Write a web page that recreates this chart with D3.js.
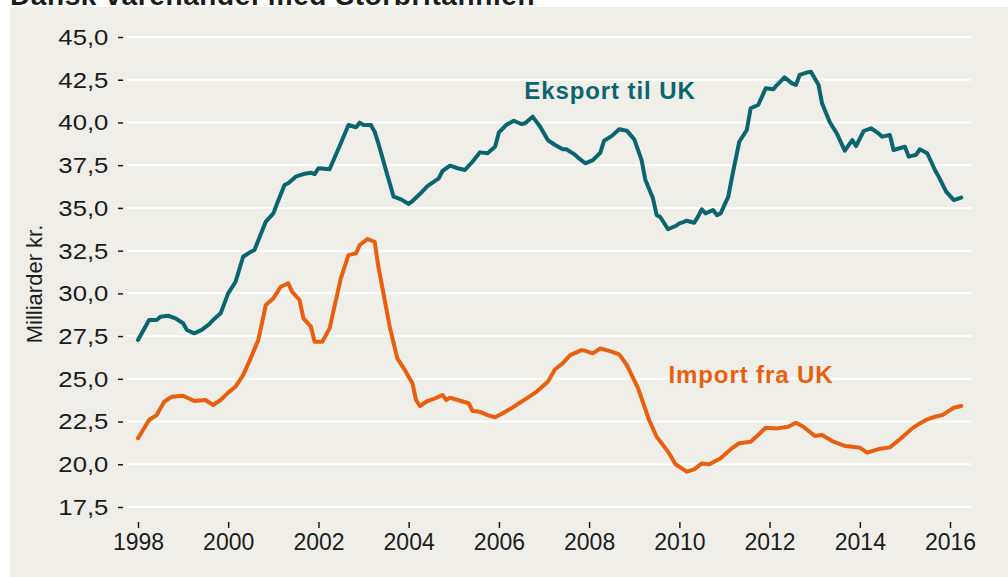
<!DOCTYPE html>
<html>
<head>
<meta charset="utf-8">
<script src="https://cdn.jsdelivr.net/npm/d3@7"></script>
<style>
  html, body { margin: 0; padding: 0; background: #ffffff; }
  svg { display: block; }
  text { font-family: "Liberation Sans", Arial, Helvetica, sans-serif; }
</style>
</head>
<body>
<svg id="chart" width="1008" height="577"></svg>
<script>
// ---------- data ----------
const title = "Dansk varehandel med Storbritannien";
const yAxisTitle = "Milliarder kr.";
const seriesNames = ["Eksport til UK", "Import fra UK"];

const exportDates = ["1998-01","1998-04","1998-06","1998-07","1998-09","1998-11","1999-01","1999-02","1999-04","1999-06","1999-08","1999-09","1999-11","2000-01","2000-03","2000-05","2000-07","2000-08","2000-11","2001-01","2001-02","2001-04","2001-05","2001-07","2001-09","2001-11","2001-12","2002-01","2002-04","2002-07","2002-09","2002-11","2002-12","2003-01","2003-03","2003-04","2003-05","2003-07","2003-08","2003-09","2003-11","2004-01","2004-02","2004-04","2004-06","2004-09","2004-10","2004-12","2005-02","2005-04","2005-06","2005-08","2005-10","2005-12","2006-01","2006-03","2006-05","2006-07","2006-08","2006-10","2006-12","2007-02","2007-04","2007-06","2007-07","2007-09","2007-10","2007-12","2008-02","2008-04","2008-05","2008-07","2008-09","2008-11","2009-01","2009-03","2009-04","2009-06","2009-07","2009-08","2009-10","2009-12","2010-01","2010-02","2010-03","2010-05","2010-06","2010-07","2010-08","2010-10","2010-11","2010-12","2011-02","2011-03","2011-05","2011-07","2011-08","2011-10","2011-11","2011-12","2012-02","2012-03","2012-05","2012-07","2012-08","2012-09","2012-11","2012-12","2013-02","2013-03","2013-05","2013-07","2013-09","2013-11","2013-12","2014-02","2014-04","2014-06","2014-07","2014-09","2014-10","2015-01","2015-02","2015-04","2015-05","2015-07","2015-09","2015-10","2015-12","2016-02","2016-04"];
const exportValues = [27.27,28.44,28.44,28.63,28.69,28.54,28.25,27.86,27.66,27.86,28.2,28.44,28.83,30.0,30.68,32.14,32.43,32.54,34.2,34.68,35.27,36.34,36.44,36.83,36.98,37.06,36.98,37.32,37.26,38.78,39.85,39.72,39.99,39.85,39.85,39.46,38.78,37.22,36.44,35.66,35.5,35.23,35.4,35.81,36.28,36.73,37.16,37.47,37.32,37.22,37.7,38.25,38.2,38.58,39.42,39.85,40.1,39.91,39.95,40.34,39.75,38.97,38.68,38.43,38.43,38.15,37.96,37.61,37.8,38.23,38.93,39.2,39.6,39.52,39.01,37.8,36.63,35.56,34.58,34.45,33.75,33.94,34.1,34.17,34.25,34.13,34.49,34.92,34.68,34.88,34.58,34.68,35.66,36.73,38.87,39.56,40.83,41.02,41.51,42.0,41.94,42.19,42.64,42.29,42.19,42.78,42.93,42.97,42.19,41.12,40.04,39.32,38.35,38.97,38.62,39.5,39.66,39.36,39.17,39.27,38.39,38.58,38.0,38.1,38.43,38.2,37.22,36.83,35.95,35.46,35.6];

const importDates = ["1998-01","1998-04","1998-06","1998-08","1998-10","1999-01","1999-04","1999-07","1999-09","1999-11","2000-01","2000-03","2000-05","2000-07","2000-09","2000-11","2001-01","2001-03","2001-05","2001-06","2001-08","2001-09","2001-11","2001-12","2002-02","2002-04","2002-07","2002-09","2002-11","2002-12","2003-02","2003-04","2003-05","2003-08","2003-10","2003-12","2004-02","2004-03","2004-04","2004-06","2004-08","2004-10","2004-11","2004-12","2005-02","2005-05","2005-06","2005-08","2005-10","2005-12","2006-02","2006-04","2006-07","2006-08","2006-11","2007-02","2007-04","2007-06","2007-08","2007-11","2007-12","2008-02","2008-04","2008-07","2008-09","2008-11","2009-02","2009-05","2009-07","2009-10","2009-12","2010-03","2010-05","2010-07","2010-09","2010-12","2011-03","2011-05","2011-08","2011-10","2011-12","2012-03","2012-06","2012-08","2012-10","2013-01","2013-03","2013-06","2013-09","2013-11","2014-01","2014-03","2014-06","2014-09","2014-12","2015-03","2015-05","2015-07","2015-09","2015-11","2016-01","2016-02","2016-04"];
const importValues = [21.52,22.59,22.88,23.66,23.95,24.01,23.7,23.76,23.47,23.76,24.19,24.54,25.22,26.2,27.27,29.32,29.71,30.39,30.59,30.1,29.61,28.54,28.05,27.17,27.17,27.95,30.88,32.24,32.34,32.83,33.18,33.02,31.56,28.05,26.2,25.52,24.74,23.76,23.41,23.7,23.86,24.05,23.76,23.89,23.76,23.57,23.12,23.07,22.88,22.75,22.98,23.23,23.66,23.8,24.24,24.83,25.56,25.9,26.39,26.68,26.64,26.49,26.78,26.59,26.43,25.81,24.44,22.59,21.61,20.74,20.0,19.57,19.7,20.05,20.0,20.35,20.93,21.23,21.32,21.71,22.14,22.1,22.2,22.43,22.2,21.65,21.71,21.32,21.07,21.03,20.97,20.68,20.89,20.99,21.52,22.1,22.39,22.63,22.78,22.88,23.17,23.31,23.41];

const yTicks = [17.5, 20, 22.5, 25, 27.5, 30, 32.5, 35, 37.5, 40, 42.5, 45];
const xTickYears = [1998, 2000, 2002, 2004, 2006, 2008, 2010, 2012, 2014, 2016];

// ---------- drawing ----------
const colors = { export: "#0a6570", import: "#e8600f", bg: "#efeee8", text: "#1c1c1c" };
const svg = d3.select("#chart");
const parse = d3.timeParse("%Y-%m");

// panel background
svg.append("rect").attr("x", 10).attr("y", 7).attr("width", 998).attr("height", 570).attr("fill", colors.bg);

// title (cropped at top as in the reference)
svg.append("text").attr("x", 10).attr("y", 5)
  .attr("font-size", 28).attr("font-weight", "bold").attr("fill", colors.text)
  .attr("letter-spacing", 0.6)
  .text(title);

const x = d3.scaleTime().domain([new Date(1998, 0, 1), new Date(2016, 0, 1)]).range([138, 950]);
const y = d3.scaleLinear().domain([17.5, 45]).range([507, 37]);

// gridlines
svg.append("g").selectAll("line").data(yTicks).join("line")
  .attr("x1", 126).attr("x2", 971)
  .attr("y1", d => y(d)).attr("y2", d => y(d))
  .attr("stroke", "#ffffff").attr("stroke-width", 2);

// y axis
const fmt = d => d3.format(".1f")(d).replace(".", ",");
const yAxis = d3.axisLeft(y).tickValues(yTicks).tickFormat(fmt).tickSize(5).tickPadding(8);
const gy = svg.append("g").attr("transform", "translate(123,0)").call(yAxis);
gy.select(".domain").remove();
gy.selectAll(".tick line").attr("stroke", colors.text).attr("stroke-width", 1.5);
gy.selectAll(".tick text").attr("font-size", 23).attr("fill", colors.text)
  .attr("font-family", "'Liberation Sans', Arial, sans-serif")
  .attr("transform", "scale(1.12,1)");

// x axis
const xAxis = d3.axisBottom(x).tickValues(xTickYears.map(yr => new Date(yr, 0, 1)))
  .tickFormat(d3.timeFormat("%Y")).tickSize(6).tickPadding(6);
const gx = svg.append("g").attr("transform", "translate(0,522)").call(xAxis);
gx.select(".domain").remove();
gx.selectAll(".tick line").attr("stroke", colors.text).attr("stroke-width", 1.5);
gx.selectAll(".tick text").attr("font-size", 23).attr("fill", colors.text)
  .attr("font-family", "'Liberation Sans', Arial, sans-serif");

// y axis title
svg.append("text").attr("transform", "translate(42,284) rotate(-90)")
  .attr("text-anchor", "middle").attr("font-size", 22).attr("fill", colors.text)
  .text(yAxisTitle);

// lines
const line = d3.line().x(d => x(d.date)).y(d => y(d.value));
const exportData = exportDates.map((d, i) => ({ date: parse(d), value: exportValues[i] }));
const importData = importDates.map((d, i) => ({ date: parse(d), value: importValues[i] }));

svg.append("path").datum(importData).attr("d", line)
  .attr("fill", "none").attr("stroke", colors.import).attr("stroke-width", 4)
  .attr("stroke-linejoin", "round").attr("stroke-linecap", "round");
svg.append("path").datum(exportData).attr("d", line)
  .attr("fill", "none").attr("stroke", colors.export).attr("stroke-width", 4)
  .attr("stroke-linejoin", "round").attr("stroke-linecap", "round");

// series labels
svg.append("text").attr("x", 610).attr("y", 99).attr("text-anchor", "middle")
  .attr("font-size", 24).attr("font-weight", "bold").attr("fill", colors.export)
  .attr("letter-spacing", 0.9).text(seriesNames[0]);
svg.append("text").attr("x", 751).attr("y", 383).attr("text-anchor", "middle")
  .attr("font-size", 24).attr("font-weight", "bold").attr("fill", colors.import)
  .attr("letter-spacing", 0.9).text(seriesNames[1]);
</script>
</body>
</html>
